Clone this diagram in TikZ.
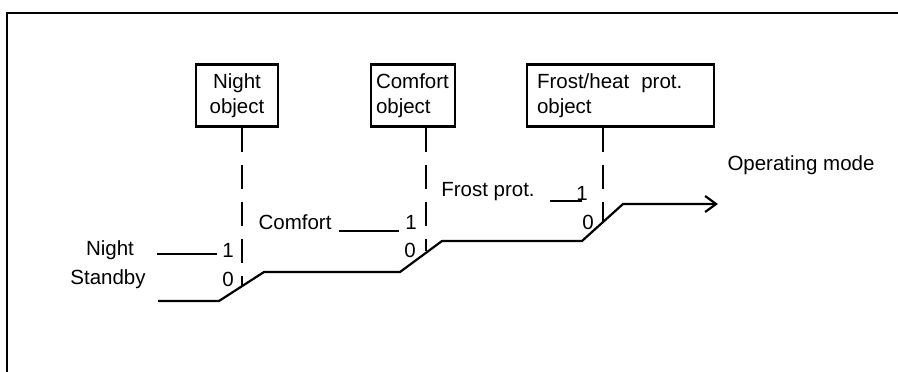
\documentclass[tikz,border=0pt]{standalone}
\usepackage{fontspec}
\setmainfont{Liberation Sans}
\usetikzlibrary{arrows.meta}
\begin{document}
\begin{tikzpicture}[x=1pt,y=-1pt,
  every node/.style={font=\fontsize{20.5}{25}\selectfont, inner sep=0pt},
  objbox/.style={draw, line width=2.2pt, minimum height=62pt},
  sig/.style={line width=2.2pt},
  dsh/.style={line width=2.2pt, dash pattern=on 24pt off 13pt},
  ]
\useasboundingbox (0,0) rectangle (898,372);
\draw[line width=2.6pt] (7,373) -- (7,13) -- (899,13);

% object boxes
\node[objbox, minimum width=82pt, align=center] (nb) at (237,95.5) {Night\\object};
\node[objbox, minimum width=84pt, text width=74pt, align=left] (cb) at (413,95.5) {Comfort\\object};
\node[objbox, minimum width=187pt, text width=167pt, align=left] (fb) at (620.5,95.5) {Frost/heat\hspace{12pt}prot.\\object};

% switch pivots
\coordinate (np) at (242,286);
\coordinate (cp) at (426,251);
\coordinate (fp) at (603,222);

\draw[dsh] (nb.south -| np) -- (np);
\draw[dsh] (cb.south -| cp) -- (cp);
\draw[dsh] (fb.south -| fp) -- (fp);

% signal path
\coordinate (s0) at (158,301);
\coordinate (s1) at (219,301);
\coordinate (s2) at (264,272);
\coordinate (s3) at (400,272);
\coordinate (s4) at (442,241);
\coordinate (s5) at (582,241);
\coordinate (s6) at (623,204);
\coordinate (s7) at (718,204);
\draw[sig, -{Straight Barb[length=11pt,width=16pt,line width=2.2pt]}]
  (s0) -- (s1) -- (s2) -- (s3) -- (s4) -- (s5) -- (s6) -- (s7);

% input lines
\coordinate (ni0) at (157,254); \coordinate (ni1) at (217,254);
\coordinate (ci0) at (339,231); \coordinate (ci1) at (399,231);
\coordinate (fi0) at (550,201); \coordinate (fi1) at (582,201);
\draw[sig] (ni0) -- (ni1);
\draw[sig] (ci0) -- (ci1);
\draw[sig] (fi0) -- (fi1);

% labels
\node (lnight) at (110,250) {Night};
\node (lstandby) at (108,279) {Standby};
\node (n1) at (228,250) {1};
\node (n0) at (228,279) {0};
\node (lcomfort) at (295,222) {Comfort};
\node (c1) at (411,222) {1};
\node (c0) at (410,250) {0};
\node (lfrost) at (488,192) {Frost prot.};
\node (f1) at (582,193) {1};
\node (f0) at (588,222) {0};
\node (lop) at (801,165) {Operating mode};
\end{tikzpicture}
\end{document}
